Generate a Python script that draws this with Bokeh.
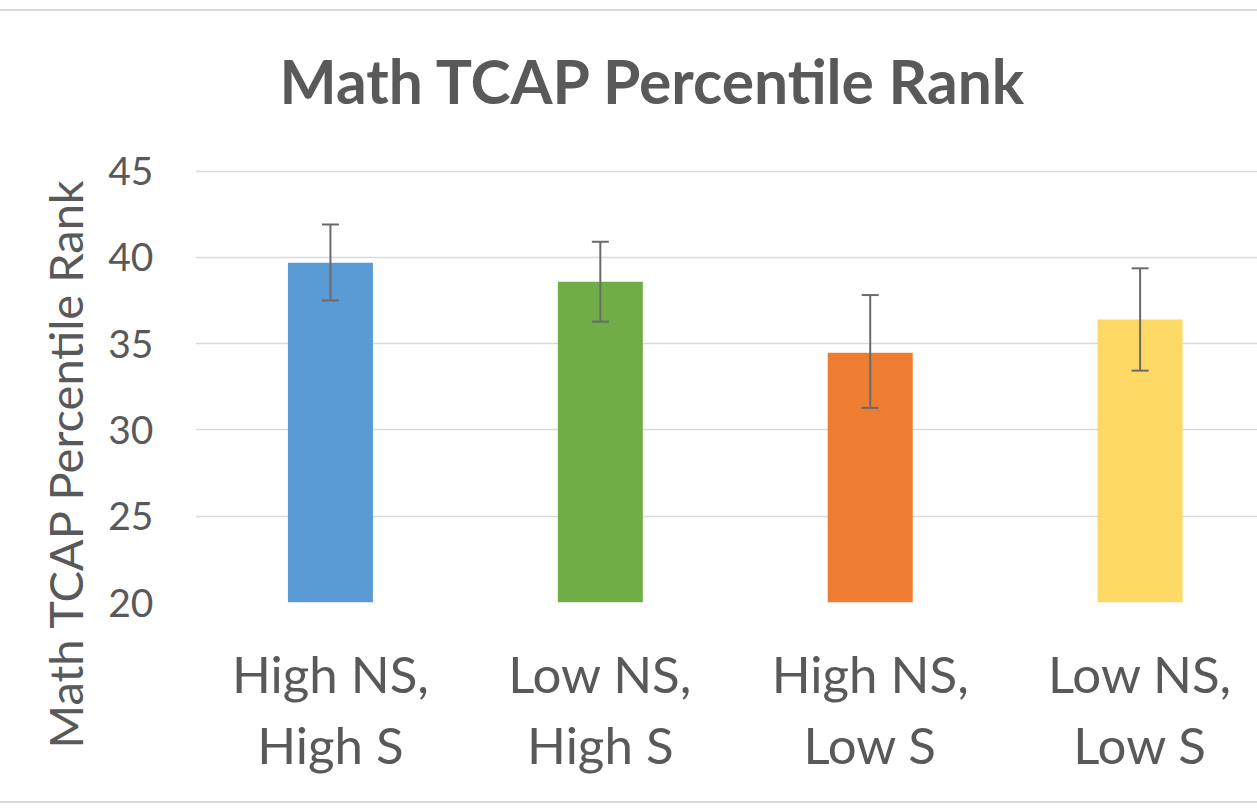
from bokeh.plotting import figure
from bokeh.models import (ColumnDataSource, FixedTicker, Whisker, TeeHead,
                          Range1d, Title)
from bokeh.embed import file_html
from bokeh.resources import INLINE

# ---- data ----
categories = ["High NS,\nHigh S", "Low NS,\nHigh S", "High NS,\nLow S", "Low NS,\nLow S"]
means = [39.70, 38.59, 34.48, 36.41]
err_upper = [41.91, 40.91, 37.82, 39.37]
err_lower = [37.51, 36.28, 31.28, 33.44]
colors = ["#5B9BD5", "#70AD47", "#ED7D31", "#FFD966"]
y_ticks = [20, 25, 30, 35, 40, 45]
title_text = "Math TCAP Percentile Rank"
y_label_text = "Math TCAP Percentile Rank"

TXT = "#595959"
FONT = "Lato"

xs = list(range(len(categories)))
src = ColumnDataSource(dict(x=xs, top=means, upper=err_upper, lower=err_lower, color=colors))

# y range extends a little above the top gridline (45) to leave room under the title
p = figure(width=1257, height=794, output_backend="svg", toolbar_location=None,
           x_range=Range1d(-0.5, 3.435), y_range=Range1d(20, 47.88),
           min_border_left=195, min_border_right=0, min_border_top=110, min_border_bottom=203,
           margin=(9, 0, 0, 0))
p.styles = {"border-top": "2px solid #d9d9d9", "border-bottom": "2px solid #d9d9d9"}
p.outline_line_color = None
p.background_fill_color = "white"
p.border_fill_color = "white"
p.title.text = ""

p.vbar(x="x", top="top", bottom=20, width=0.315, fill_color="color", line_color=None, source=src)

w = Whisker(base="x", upper="upper", lower="lower", source=src, level="annotation",
            line_color="#6a6a6a", line_width=2,
            upper_head=TeeHead(size=17, line_color="#6a6a6a", line_width=2),
            lower_head=TeeHead(size=17, line_color="#6a6a6a", line_width=2))
p.add_layout(w)

# grid
p.xgrid.grid_line_color = None
p.ygrid.grid_line_color = "#d9d9d9"
p.ygrid.grid_line_width = 1.5
p.ygrid.ticker = FixedTicker(ticks=y_ticks)

# y axis
p.yaxis.ticker = FixedTicker(ticks=y_ticks)
p.yaxis.axis_line_color = None
p.yaxis.major_tick_line_color = None
p.yaxis.minor_tick_line_color = None
p.yaxis.major_tick_out = 0
p.yaxis.major_tick_in = 0
p.yaxis.minor_tick_out = 0
p.yaxis.major_label_standoff = 42
p.yaxis.major_label_text_font = FONT
p.yaxis.major_label_text_font_size = "39px"
p.yaxis.major_label_text_color = TXT

# x axis
p.xaxis.ticker = FixedTicker(ticks=xs)
p.xaxis.major_label_overrides = {i: c for i, c in zip(xs, categories)}
p.xaxis.axis_line_color = None
p.xaxis.major_tick_line_color = None
p.xaxis.minor_tick_line_color = None
p.xaxis.major_tick_out = 0
p.xaxis.major_tick_in = 0
p.xaxis.minor_tick_out = 0
p.xaxis.major_label_standoff = 40
p.xaxis.major_label_text_font = FONT
p.xaxis.major_label_text_font_size = "51px"
p.xaxis.major_label_text_color = TXT
p.xaxis.major_label_text_line_height = 1.18

# main title
main_title = Title(text=title_text, align="left", offset=84, standoff=10,
                   text_font=FONT, text_font_style="bold", text_font_size="60.5px",
                   text_color=TXT)
p.add_layout(main_title, "above")

# y axis title (sits lower than the frame centre, as in the original)
ytitle = Title(text=y_label_text, align="left", offset=-146, standoff=26,
               text_font=FONT, text_font_style="normal", text_font_size="47px",
               text_color=TXT)
p.add_layout(ytitle, "left")

open("out.html", "w").write(file_html(p, INLINE))
